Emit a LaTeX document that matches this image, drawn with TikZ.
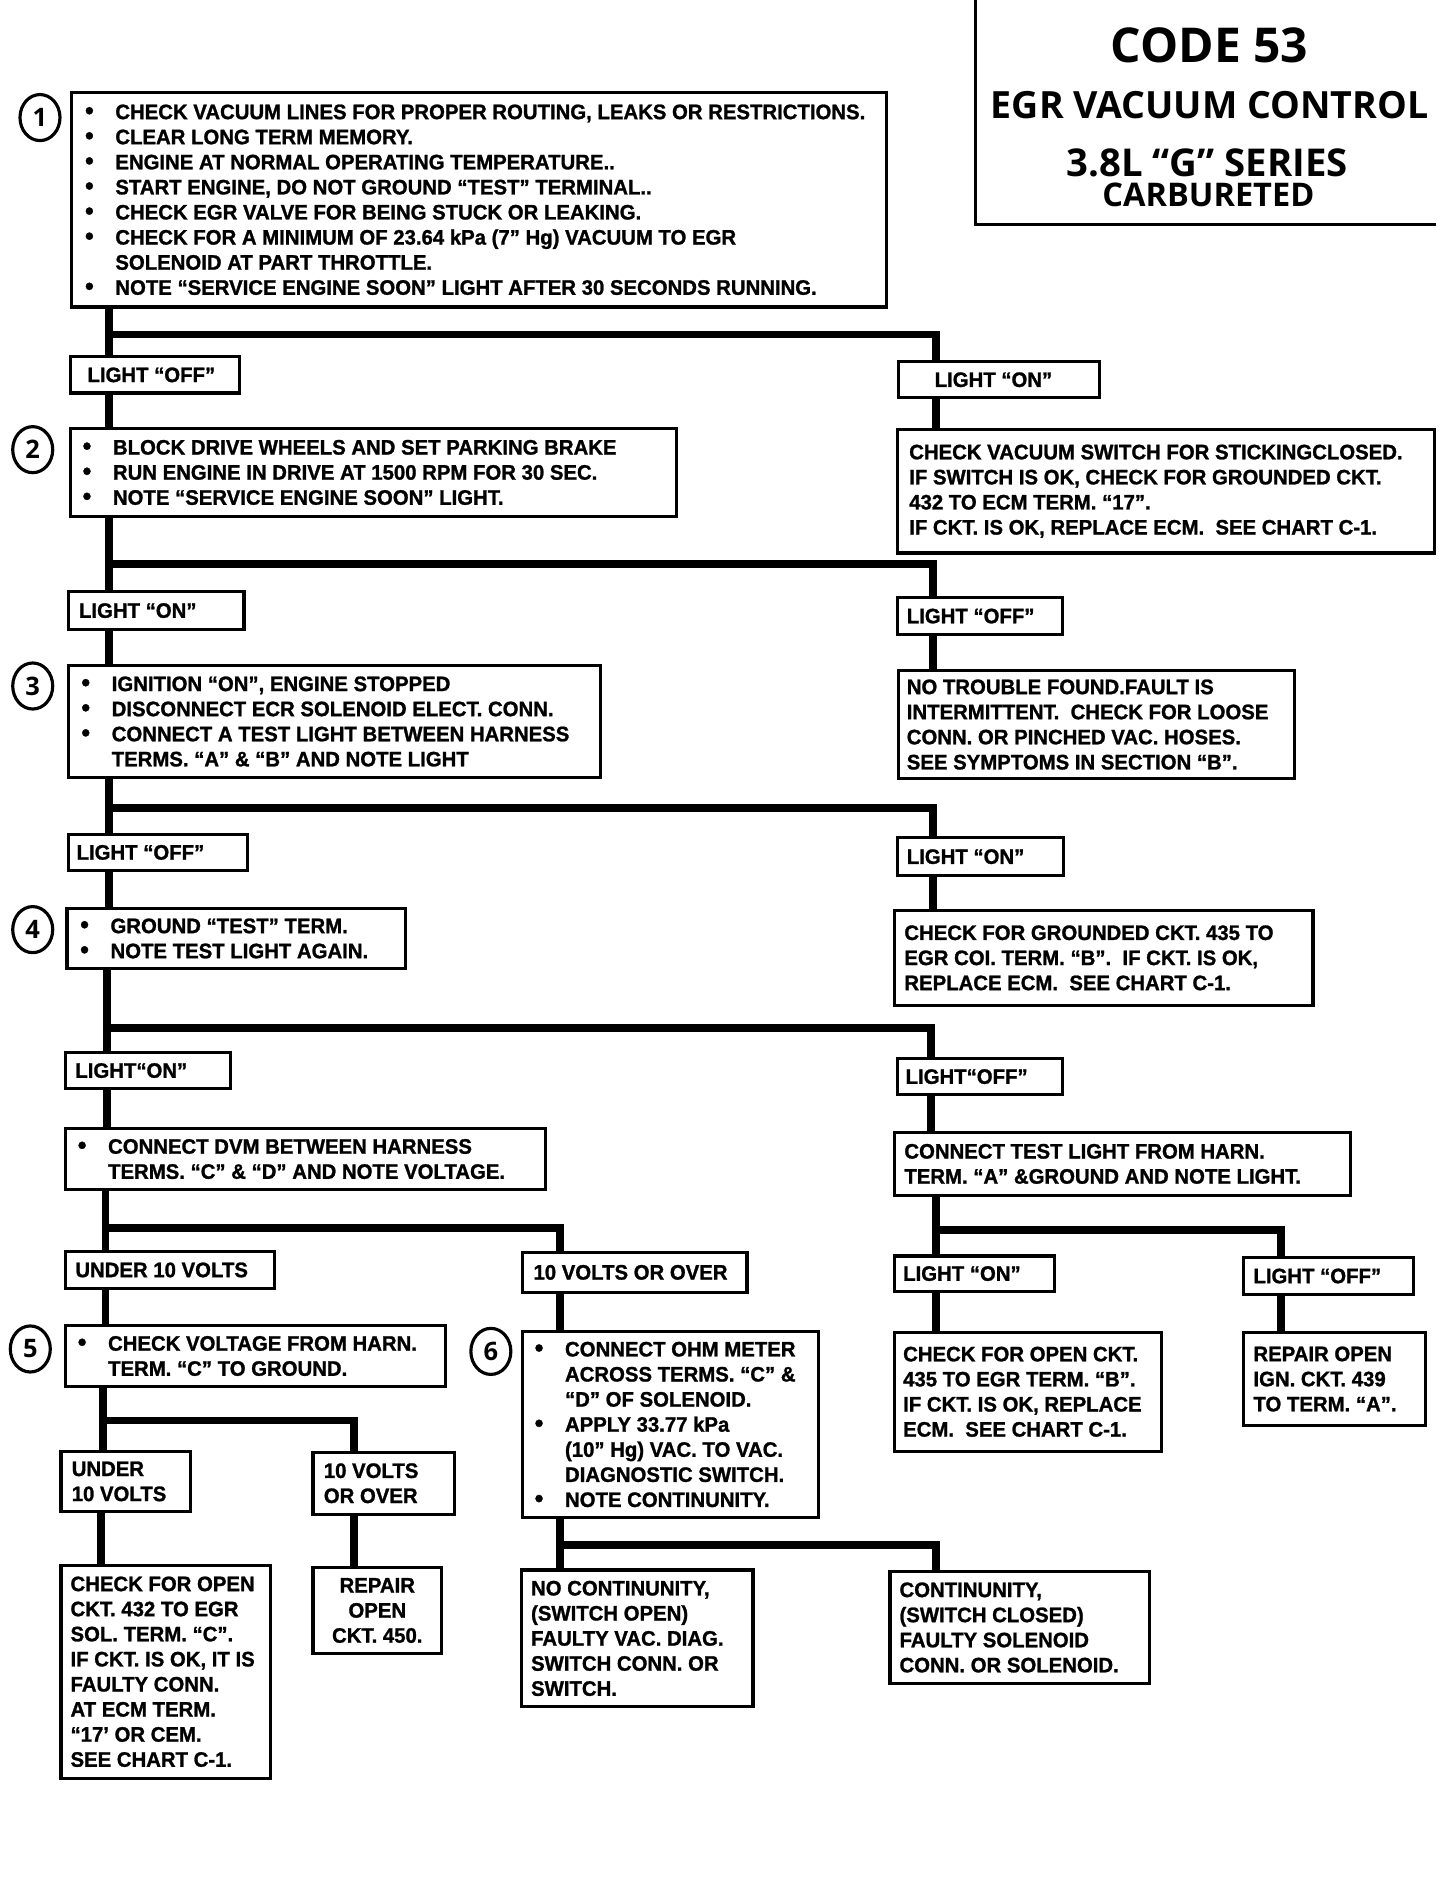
\documentclass[tikz,border=0pt]{standalone}
\usepackage{fontspec}
\usepackage{graphicx}
\setmainfont{Liberation Sans}[FakeStretch=0.98]
\newfontfamily\bodyf{Liberation Sans}[UprightFont={* Bold}, FakeStretch=0.97, FakeBold=1.2]
\newfontfamily\titlef{Open Sans}
\usetikzlibrary{shapes.geometric}
\newcommand{\bodyfont}{\bodyf\fontsize{17.3}{20.7}\selectfont}
\newcommand{\bul}{\makebox[25pt][l]{\raisebox{0pt}{\fontsize{21}{20}\selectfont\textbullet}}}
\newcommand{\indnt}{\hspace*{25pt}}
\tikzset{
  bx/.style 2 args={draw, line width=2.6pt, anchor=north west, minimum width=#1pt, minimum height=#2pt, inner sep=0pt},
  txt/.style={anchor=west, inner sep=0pt, align=left, font=\bodyfont},
  ctxt/.style={anchor=center, inner sep=0pt, align=center, font=\bodyfont},
  circ/.style={draw, ellipse, line width=2.6pt, minimum width=33pt, minimum height=38pt, inner sep=0pt, font=\titlef\bfseries\fontsize{21}{21}\selectfont},
  ttl/.style={anchor=center, inner sep=0pt, font=\titlef\bfseries\fontsize{30}{30}\selectfont},
  conn/.style={line width=6.5pt},
  frame/.style={line width=2.6pt}
}
\begin{document}
\begin{tikzpicture}[x=1pt,y=-1pt]
\useasboundingbox (0,0) rectangle (1201,1566);

% title block
\draw[frame] (805,0) -- (805,185) -- (1185,185);
\node[ttl] (tt1) at (998,37) {\resizebox{163pt}{!}{CODE 53}};
\node[ttl] (tt2) at (998,87) {\resizebox{361pt}{!}{EGR VACUUM CONTROL}};
\node[ttl] (tt3) at (996,134) {\resizebox{232pt}{!}{3.8L “G” SERIES}};
\node[ttl] (tt4) at (997,161) {\resizebox{175pt}{!}{CARBURETED}};

% step circles
\node[circ] (n1) at (33,97) {1};
\node[circ] (n2) at (27,371) {2};
\node[circ] (n3) at (27,566) {3};
\node[circ] (n4) at (27,767) {4};
\node[circ] (n5) at (25,1113) {5};
\node[circ] (n6) at (405,1115) {6};

% left column boxes
\node[bx={672}{177}] (b1) at (58,75) {};
\node[txt] (b1t) at ([xshift=12pt]b1.west) {\bul CHECK VACUUM LINES FOR PROPER ROUTING, LEAKS OR RESTRICTIONS.\\
\bul CLEAR LONG TERM MEMORY.\\
\bul ENGINE AT NORMAL OPERATING TEMPERATURE..\\
\bul START ENGINE, DO NOT GROUND “TEST” TERMINAL..\\
\bul CHECK EGR VALVE FOR BEING STUCK OR LEAKING.\\
\bul CHECK FOR A MINIMUM OF 23.64 kPa (7” Hg) VACUUM TO EGR\\
\indnt SOLENOID AT PART THROTTLE.\\
\bul NOTE “SERVICE ENGINE SOON” LIGHT AFTER 30 SECONDS RUNNING.};

\node[bx={139}{30}] (loff1) at (57,293) {};
\node[txt] (loff1t) at ([xshift=15pt]loff1.west) {LIGHT “OFF”};

\node[bx={500}{73}] (b2) at (57,352) {};
\node[txt] (b2t) at ([xshift=11pt]b2.west) {\bul BLOCK DRIVE WHEELS AND SET PARKING BRAKE\\
\bul RUN ENGINE IN DRIVE AT 1500 RPM FOR 30 SEC.\\
\bul NOTE “SERVICE ENGINE SOON” LIGHT.};

\node[bx={145}{31}] (lon1L) at (55,487) {};
\node[txt] (lon1Lt) at ([xshift=10pt]lon1L.west) {LIGHT “ON”};

\node[bx={439}{92}] (b3) at (55,548) {};
\node[txt] (b3t) at ([xshift=12pt]b3.west) {\bul IGNITION “ON”, ENGINE STOPPED\\
\bul DISCONNECT ECR SOLENOID ELECT. CONN.\\
\bul CONNECT A TEST LIGHT BETWEEN HARNESS\\
\indnt TERMS. “A” \& “B” AND NOTE LIGHT};

\node[bx={148}{30}] (loff2L) at (55,687) {};
\node[txt] (loff2Lt) at ([xshift=8pt]loff2L.west) {LIGHT “OFF”};

\node[bx={279}{50}] (b4) at (54,748) {};
\node[txt] (b4t) at ([xshift=12pt]b4.west) {\bul GROUND “TEST” TERM.\\
\bul NOTE TEST LIGHT AGAIN.};

\node[bx={136}{30}] (lon3L) at (53,867) {};
\node[txt] (lon3Lt) at ([xshift=9pt]lon3L.west) {LIGHT“ON”};

\node[bx={396}{50}] (bdvm) at (53,930) {};
\node[txt] (bdvmt) at ([xshift=11pt]bdvm.west) {\bul CONNECT DVM BETWEEN HARNESS\\
\indnt TERMS. “C” \& “D” AND NOTE VOLTAGE.};

\node[bx={172}{31}] (under1) at (53,1031) {};
\node[txt] (under1t) at ([xshift=9pt]under1.west) {UNDER 10 VOLTS};

\node[bx={185}{33}] (over1) at (430,1032) {};
\node[txt] (over1t) at ([xshift=10pt]over1.west) {10 VOLTS OR OVER};

\node[bx={313}{51}] (b5) at (53,1092) {};
\node[txt] (b5t) at ([xshift=11pt]b5.west) {\bul CHECK VOLTAGE FROM HARN.\\
\indnt TERM. “C” TO GROUND.};

\node[bx={244}{154}] (b6) at (430,1097) {};
\node[txt] (b6t) at ([xshift=11pt]b6.west) {\bul CONNECT OHM METER\\
\indnt ACROSS TERMS. “C” \&\\
\indnt “D” OF SOLENOID.\\
\bul APPLY 33.77 kPa\\
\indnt (10” Hg) VAC. TO VAC.\\
\indnt DIAGNOSTIC SWITCH.\\
\bul NOTE CONTINUNITY.};

\node[bx={107}{50}] (under2) at (49,1196) {};
\node[txt] (under2t) at ([xshift=10pt]under2.west) {UNDER\\10 VOLTS};

\node[bx={117}{51}] (over2) at (257,1197) {};
\node[txt] (over2t) at ([xshift=10pt]over2.west) {10 VOLTS\\OR OVER};

\node[bx={173}{176}] (c1) at (49,1290) {};
\node[txt] (c1t) at ([xshift=9pt]c1.west) {CHECK FOR OPEN\\
CKT. 432 TO EGR\\
SOL. TERM. “C”.\\
IF CKT. IS OK, IT IS\\
FAULTY CONN.\\
AT ECM TERM.\\
“17’ OR CEM.\\
SEE CHART C-1.};

\node[bx={106}{71}] (c2) at (257,1292) {};
\node[ctxt] (c2t) at (c2.center) {REPAIR\\OPEN\\CKT. 450.};

\node[bx={191}{113}] (c3) at (429,1294) {};
\node[txt] (c3t) at ([xshift=9pt]c3.west) {NO CONTINUNITY,\\
(SWITCH OPEN)\\
FAULTY VAC. DIAG.\\
SWITCH CONN. OR\\
SWITCH.};

\node[bx={214}{93}] (c4) at (733,1295) {};
\node[txt] (c4t) at ([xshift=9pt]c4.west) {CONTINUNITY,\\
(SWITCH CLOSED)\\
FAULTY SOLENOID\\
CONN. OR SOLENOID.};

% right column
\node[bx={166}{30}] (lon1R) at (740,297) {};
\node[txt] (lon1Rt) at ([xshift=31pt]lon1R.west) {LIGHT “ON”};

\node[bx={443}{102}] (r1) at (739,353) {};
\node[txt] (r1t) at ([xshift=11pt]r1.west) {CHECK VACUUM SWITCH FOR STICKINGCLOSED.\\
IF SWITCH IS OK, CHECK FOR GROUNDED CKT.\\
432 TO ECM TERM. “17”.\\
IF CKT. IS OK, REPLACE ECM.~ SEE CHART C-1.};

\node[bx={136}{30}] (loff2R) at (739,492) {};
\node[txt] (loff2Rt) at ([xshift=9pt]loff2R.west) {LIGHT “OFF”};

\node[bx={327}{89}] (r2) at (740,552) {};
\node[txt] (r2t) at ([xshift=8pt]r2.west) {NO TROUBLE FOUND.FAULT IS\\
INTERMITTENT.~ CHECK FOR LOOSE\\
CONN. OR PINCHED VAC. HOSES.\\
SEE SYMPTOMS IN SECTION “B”.};

\node[bx={137}{31}] (lon3R) at (739,690) {};
\node[txt] (lon3Rt) at ([xshift=9pt]lon3R.west) {LIGHT “ON”};

\node[bx={345}{78}] (r3) at (737,750) {};
\node[txt] (r3t) at ([xshift=9pt]r3.west) {CHECK FOR GROUNDED CKT. 435 TO\\
EGR COI. TERM. “B”.~ IF CKT. IS OK,\\
REPLACE ECM.~ SEE CHART C-1.};

\node[bx={136}{30}] (loff4R) at (739,872) {};
\node[txt] (loff4Rt) at ([xshift=8pt]loff4R.west) {LIGHT“OFF”};

\node[bx={376}{52}] (r4) at (737,933) {};
\node[txt] (r4t) at ([xshift=9pt]r4.west) {CONNECT TEST LIGHT FROM HARN.\\
TERM. “A” \&GROUND AND NOTE LIGHT.};

\node[bx={132}{29}] (lon5R) at (737,1035) {};
\node[txt] (lon5Rt) at ([xshift=8pt]lon5R.west) {LIGHT “ON”};

\node[bx={140}{31}] (loff5R) at (1025,1036) {};
\node[txt] (loff5Rt) at ([xshift=9pt]loff5R.west) {LIGHT “OFF”};

\node[bx={220}{98}] (r5) at (737,1098) {};
\node[txt] (r5t) at ([xshift=8pt]r5.west) {CHECK FOR OPEN CKT.\\
435 TO EGR TERM. “B”.\\
IF CKT. IS OK, REPLACE\\
ECM.~ SEE CHART C-1.};

\node[bx={150}{77}] (r6) at (1025,1098) {};
\node[txt] (r6t) at ([xshift=9pt]r6.west) {REPAIR OPEN\\
IGN. CKT. 439\\
TO TERM. “A”.};

% junction coordinates
\coordinate (j1) at (90,276);   \coordinate (k1) at (772,276);
\coordinate (j2) at (90,465);   \coordinate (k2) at (770,465);
\coordinate (j3) at (90,667);   \coordinate (k3) at (770,667);
\coordinate (j4) at (88,848);   \coordinate (k4) at (768,848);
\coordinate (j5) at (87,1013);  \coordinate (k5) at (462,1013);
\coordinate (j6) at (85,1172);  \coordinate (k6) at (292,1172);
\coordinate (j7) at (462,1275); \coordinate (k7) at (772,1275);
\coordinate (j8) at (772,1015); \coordinate (k8) at (1057,1015);
\coordinate (x5) at (83,1250);

% connectors
\draw[conn] (b1.south -| j1) -- (loff1.north -| j1);
\draw[conn] (j1) -- (k1) -- (lon1R.north -| k1);
\draw[conn] (lon1R.south -| k1) -- (r1.north -| k1);
\draw[conn] (loff1.south -| j1) -- (b2.north -| j1);

\draw[conn] (b2.south -| j2) -- (lon1L.north -| j2);
\draw[conn] (j2) -- (k2) -- (loff2R.north -| k2);
\draw[conn] (loff2R.south -| k2) -- (r2.north -| k2);
\draw[conn] (lon1L.south -| j2) -- (b3.north -| j2);

\draw[conn] (b3.south -| j3) -- (loff2L.north -| j3);
\draw[conn] (j3) -- (k3) -- (lon3R.north -| k3);
\draw[conn] (lon3R.south -| k3) -- (r3.north -| k3);
\draw[conn] (loff2L.south -| j3) -- (b4.north -| j3);

\draw[conn] (b4.south -| j4) -- (lon3L.north -| j4);
\draw[conn] (j4) -- (k4) -- (loff4R.north -| k4);
\draw[conn] (loff4R.south -| k4) -- (r4.north -| k4);
\draw[conn] (lon3L.south -| j4) -- (bdvm.north -| j4);

\draw[conn] (bdvm.south -| j5) -- (under1.north -| j5);
\draw[conn] (j5) -- (k5) -- (over1.north -| k5);
\draw[conn] (under1.south -| j5) -- (b5.north -| j5);
\draw[conn] (over1.south -| k5) -- (b6.north -| k5);

\draw[conn] (b5.south -| j6) -- (under2.north -| j6);
\draw[conn] (j6) -- (k6) -- (over2.north -| k6);
\draw[conn] (under2.south -| x5) -- (c1.north -| x5);
\draw[conn] (over2.south -| k6) -- (c2.north -| k6);

\draw[conn] (b6.south -| j7) -- (c3.north -| j7);
\draw[conn] (j7) -- (k7) -- (c4.north -| k7);

\draw[conn] (r4.south -| j8) -- (lon5R.north -| j8);
\draw[conn] (j8) -- (k8) -- (loff5R.north -| k8);
\draw[conn] (lon5R.south -| j8) -- (r5.north -| j8);
\draw[conn] (loff5R.south -| k8) -- (r6.north -| k8);
\end{tikzpicture}
\end{document}
